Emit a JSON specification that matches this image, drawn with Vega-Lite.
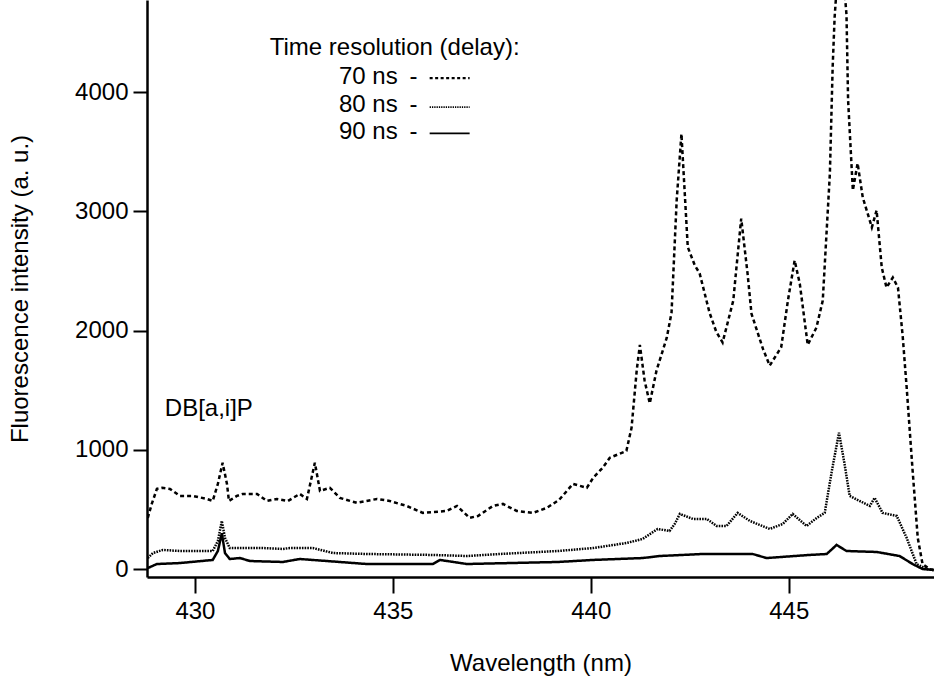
{
  "$schema": "https://vega.github.io/schema/vega-lite/v6.json",
  "width": 787,
  "height": 577,
  "autosize": {"type": "none"},
  "padding": {"left": 147, "top": 0, "right": 0, "bottom": 104},
  "background": "white",
  "config": {
    "view": {"stroke": null},
    "font": "Liberation Sans",
    "axis": {"grid": false, "domainColor": "black", "domainWidth": 2.5, "tickColor": "black", "tickWidth": 2, "labelColor": "black", "titleColor": "black", "labelFont": "Liberation Sans", "titleFont": "Liberation Sans", "labelFontSize": 24, "titleFontSize": 24, "titleFontWeight": "normal"},
    "text": {"font": "Liberation Sans", "fontSize": 24, "color": "black", "baseline": "middle"}
  },
  "datasets": {
    "spectra": [
      {"s": "70 ns", "w": 428.81, "v": 429}, {"s": "70 ns", "w": 428.91, "v": 546}, {"s": "70 ns", "w": 429.04, "v": 672}, {"s": "70 ns", "w": 429.17, "v": 681}, {"s": "70 ns", "w": 429.37, "v": 672}, {"s": "70 ns", "w": 429.62, "v": 613}, {"s": "70 ns", "w": 429.95, "v": 613}, {"s": "70 ns", "w": 430.3, "v": 588}, {"s": "70 ns", "w": 430.45, "v": 571}, {"s": "70 ns", "w": 430.58, "v": 714}, {"s": "70 ns", "w": 430.7, "v": 891}, {"s": "70 ns", "w": 430.81, "v": 714}, {"s": "70 ns", "w": 430.86, "v": 571}, {"s": "70 ns", "w": 431.06, "v": 613}, {"s": "70 ns", "w": 431.21, "v": 630}, {"s": "70 ns", "w": 431.57, "v": 630}, {"s": "70 ns", "w": 431.82, "v": 571}, {"s": "70 ns", "w": 432.07, "v": 588}, {"s": "70 ns", "w": 432.35, "v": 571}, {"s": "70 ns", "w": 432.65, "v": 630}, {"s": "70 ns", "w": 432.83, "v": 588}, {"s": "70 ns", "w": 433.03, "v": 891}, {"s": "70 ns", "w": 433.16, "v": 655}, {"s": "70 ns", "w": 433.41, "v": 681}, {"s": "70 ns", "w": 433.66, "v": 597}, {"s": "70 ns", "w": 434.09, "v": 555}, {"s": "70 ns", "w": 434.6, "v": 588}, {"s": "70 ns", "w": 434.92, "v": 571}, {"s": "70 ns", "w": 435.35, "v": 529}, {"s": "70 ns", "w": 435.76, "v": 471}, {"s": "70 ns", "w": 436.36, "v": 487}, {"s": "70 ns", "w": 436.62, "v": 529}, {"s": "70 ns", "w": 436.94, "v": 429}, {"s": "70 ns", "w": 437.15, "v": 445}, {"s": "70 ns", "w": 437.53, "v": 529}, {"s": "70 ns", "w": 437.78, "v": 546}, {"s": "70 ns", "w": 438.13, "v": 487}, {"s": "70 ns", "w": 438.54, "v": 471}, {"s": "70 ns", "w": 438.89, "v": 513}, {"s": "70 ns", "w": 439.2, "v": 580}, {"s": "70 ns", "w": 439.55, "v": 714}, {"s": "70 ns", "w": 439.9, "v": 681}, {"s": "70 ns", "w": 440.06, "v": 765}, {"s": "70 ns", "w": 440.3, "v": 849}, {"s": "70 ns", "w": 440.48, "v": 933}, {"s": "70 ns", "w": 440.9, "v": 991}, {"s": "70 ns", "w": 441.03, "v": 1185}, {"s": "70 ns", "w": 441.16, "v": 1664}, {"s": "70 ns", "w": 441.24, "v": 1880}, {"s": "70 ns", "w": 441.36, "v": 1580}, {"s": "70 ns", "w": 441.49, "v": 1390}, {"s": "70 ns", "w": 441.66, "v": 1664}, {"s": "70 ns", "w": 441.92, "v": 1941}, {"s": "70 ns", "w": 442.04, "v": 2150}, {"s": "70 ns", "w": 442.17, "v": 3092}, {"s": "70 ns", "w": 442.29, "v": 3650}, {"s": "70 ns", "w": 442.45, "v": 2700}, {"s": "70 ns", "w": 442.63, "v": 2546}, {"s": "70 ns", "w": 442.75, "v": 2480}, {"s": "70 ns", "w": 443.0, "v": 2150}, {"s": "70 ns", "w": 443.17, "v": 1990}, {"s": "70 ns", "w": 443.33, "v": 1900}, {"s": "70 ns", "w": 443.6, "v": 2252}, {"s": "70 ns", "w": 443.68, "v": 2530}, {"s": "70 ns", "w": 443.8, "v": 2940}, {"s": "70 ns", "w": 443.96, "v": 2479}, {"s": "70 ns", "w": 444.06, "v": 2141}, {"s": "70 ns", "w": 444.35, "v": 1846}, {"s": "70 ns", "w": 444.52, "v": 1706}, {"s": "70 ns", "w": 444.81, "v": 1860}, {"s": "70 ns", "w": 444.98, "v": 2252}, {"s": "70 ns", "w": 445.15, "v": 2588}, {"s": "70 ns", "w": 445.28, "v": 2393}, {"s": "70 ns", "w": 445.48, "v": 1880}, {"s": "70 ns", "w": 445.7, "v": 2025}, {"s": "70 ns", "w": 445.86, "v": 2252}, {"s": "70 ns", "w": 446.04, "v": 3319}, {"s": "70 ns", "w": 446.11, "v": 4210}, {"s": "70 ns", "w": 446.16, "v": 4630}, {"s": "70 ns", "w": 446.3, "v": 5300}, {"s": "70 ns", "w": 446.46, "v": 4647}, {"s": "70 ns", "w": 446.5, "v": 3933}, {"s": "70 ns", "w": 446.62, "v": 3176}, {"s": "70 ns", "w": 446.74, "v": 3403}, {"s": "70 ns", "w": 446.87, "v": 3118}, {"s": "70 ns", "w": 447.1, "v": 2866}, {"s": "70 ns", "w": 447.22, "v": 3008}, {"s": "70 ns", "w": 447.35, "v": 2530}, {"s": "70 ns", "w": 447.47, "v": 2361}, {"s": "70 ns", "w": 447.63, "v": 2445}, {"s": "70 ns", "w": 447.76, "v": 2361}, {"s": "70 ns", "w": 447.88, "v": 1950}, {"s": "70 ns", "w": 447.98, "v": 1521}, {"s": "70 ns", "w": 448.13, "v": 824}, {"s": "70 ns", "w": 448.26, "v": 260}, {"s": "70 ns", "w": 448.38, "v": 42}, {"s": "70 ns", "w": 448.56, "v": 0}, {"s": "70 ns", "w": 448.66, "v": -10},
      {"s": "80 ns", "w": 428.81, "v": 92}, {"s": "80 ns", "w": 428.94, "v": 134}, {"s": "80 ns", "w": 429.19, "v": 160}, {"s": "80 ns", "w": 429.62, "v": 151}, {"s": "80 ns", "w": 430.05, "v": 151}, {"s": "80 ns", "w": 430.45, "v": 151}, {"s": "80 ns", "w": 430.58, "v": 235}, {"s": "80 ns", "w": 430.68, "v": 403}, {"s": "80 ns", "w": 430.76, "v": 260}, {"s": "80 ns", "w": 430.88, "v": 176}, {"s": "80 ns", "w": 431.14, "v": 176}, {"s": "80 ns", "w": 431.72, "v": 176}, {"s": "80 ns", "w": 432.22, "v": 168}, {"s": "80 ns", "w": 432.4, "v": 176}, {"s": "80 ns", "w": 432.98, "v": 176}, {"s": "80 ns", "w": 433.49, "v": 134}, {"s": "80 ns", "w": 434.34, "v": 126}, {"s": "80 ns", "w": 436.01, "v": 118}, {"s": "80 ns", "w": 436.87, "v": 109}, {"s": "80 ns", "w": 437.7, "v": 126}, {"s": "80 ns", "w": 439.17, "v": 151}, {"s": "80 ns", "w": 440.06, "v": 176}, {"s": "80 ns", "w": 440.9, "v": 218}, {"s": "80 ns", "w": 441.31, "v": 252}, {"s": "80 ns", "w": 441.69, "v": 336}, {"s": "80 ns", "w": 441.99, "v": 319}, {"s": "80 ns", "w": 442.12, "v": 378}, {"s": "80 ns", "w": 442.25, "v": 462}, {"s": "80 ns", "w": 442.58, "v": 420}, {"s": "80 ns", "w": 442.93, "v": 420}, {"s": "80 ns", "w": 443.18, "v": 361}, {"s": "80 ns", "w": 443.43, "v": 361}, {"s": "80 ns", "w": 443.71, "v": 471}, {"s": "80 ns", "w": 444.02, "v": 403}, {"s": "80 ns", "w": 444.52, "v": 336}, {"s": "80 ns", "w": 444.85, "v": 378}, {"s": "80 ns", "w": 445.1, "v": 462}, {"s": "80 ns", "w": 445.45, "v": 361}, {"s": "80 ns", "w": 445.71, "v": 429}, {"s": "80 ns", "w": 445.91, "v": 471}, {"s": "80 ns", "w": 446.09, "v": 824}, {"s": "80 ns", "w": 446.27, "v": 1143}, {"s": "80 ns", "w": 446.41, "v": 882}, {"s": "80 ns", "w": 446.54, "v": 613}, {"s": "80 ns", "w": 446.79, "v": 571}, {"s": "80 ns", "w": 447.05, "v": 529}, {"s": "80 ns", "w": 447.17, "v": 597}, {"s": "80 ns", "w": 447.37, "v": 471}, {"s": "80 ns", "w": 447.73, "v": 445}, {"s": "80 ns", "w": 447.98, "v": 260}, {"s": "80 ns", "w": 448.23, "v": 42}, {"s": "80 ns", "w": 448.48, "v": 0}, {"s": "80 ns", "w": 448.66, "v": -8},
      {"s": "90 ns", "w": 428.81, "v": 8}, {"s": "90 ns", "w": 429.04, "v": 42}, {"s": "90 ns", "w": 429.62, "v": 50}, {"s": "90 ns", "w": 430.45, "v": 76}, {"s": "90 ns", "w": 430.58, "v": 151}, {"s": "90 ns", "w": 430.68, "v": 300}, {"s": "90 ns", "w": 430.76, "v": 134}, {"s": "90 ns", "w": 430.88, "v": 84}, {"s": "90 ns", "w": 431.14, "v": 92}, {"s": "90 ns", "w": 431.39, "v": 67}, {"s": "90 ns", "w": 432.22, "v": 59}, {"s": "90 ns", "w": 432.65, "v": 84}, {"s": "90 ns", "w": 434.34, "v": 42}, {"s": "90 ns", "w": 436.01, "v": 42}, {"s": "90 ns", "w": 436.19, "v": 76}, {"s": "90 ns", "w": 436.87, "v": 42}, {"s": "90 ns", "w": 439.17, "v": 59}, {"s": "90 ns", "w": 440.06, "v": 76}, {"s": "90 ns", "w": 441.31, "v": 92}, {"s": "90 ns", "w": 441.74, "v": 109}, {"s": "90 ns", "w": 442.83, "v": 126}, {"s": "90 ns", "w": 444.09, "v": 126}, {"s": "90 ns", "w": 444.44, "v": 92}, {"s": "90 ns", "w": 445.53, "v": 118}, {"s": "90 ns", "w": 445.96, "v": 126}, {"s": "90 ns", "w": 446.21, "v": 202}, {"s": "90 ns", "w": 446.46, "v": 151}, {"s": "90 ns", "w": 447.22, "v": 143}, {"s": "90 ns", "w": 447.8, "v": 109}, {"s": "90 ns", "w": 448.13, "v": 42}, {"s": "90 ns", "w": 448.38, "v": 0}, {"s": "90 ns", "w": 448.66, "v": -8}
    ],
    "one": [{}]
  },
  "layer": [
    {
      "data": {"name": "spectra"},
      "mark": {"type": "line", "clip": true, "color": "black", "strokeWidth": 2.5, "interpolate": "linear"},
      "encoding": {
        "x": {"field": "w", "type": "quantitative", "scale": {"domain": [428.79, 448.67], "nice": false, "zero": false},
          "axis": {"values": [430, 435, 440, 445], "format": "d", "title": "Wavelength (nm)", "tickSize": 16, "labelPadding": 6, "titlePadding": 28}},
        "y": {"field": "v", "type": "quantitative", "scale": {"domain": [-67, 4773], "nice": false, "zero": false},
          "axis": {"values": [0, 1000, 2000, 3000, 4000], "format": "d", "title": "Fluorescence intensity (a. u.)", "tickSize": 14, "labelPadding": 5, "titlePadding": 42}},
        "detail": {"field": "s"},
        "strokeDash": {"field": "s", "type": "nominal", "scale": {"domain": ["70 ns", "80 ns", "90 ns"], "range": [[4, 3], [1.6, 1.1], [1, 0]]}, "legend": null}
      }
    },
    {"data": {"name": "one"}, "mark": {"type": "text", "align": "left"},
      "encoding": {"x": {"datum": 431.89}, "y": {"datum": 4370}, "text": {"value": "Time resolution (delay):"}}},
    {"data": {"name": "one"}, "mark": {"type": "text", "align": "left"},
      "encoding": {"x": {"datum": 433.64}, "y": {"datum": 4126}, "text": {"value": "70 ns"}}},
    {"data": {"name": "one"}, "mark": {"type": "text", "align": "left"},
      "encoding": {"x": {"datum": 433.64}, "y": {"datum": 3891}, "text": {"value": "80 ns"}}},
    {"data": {"name": "one"}, "mark": {"type": "text", "align": "left"},
      "encoding": {"x": {"datum": 433.64}, "y": {"datum": 3664}, "text": {"value": "90 ns"}}},
    {"data": {"name": "one"}, "mark": {"type": "text", "align": "center"},
      "encoding": {"x": {"datum": 435.52}, "y": {"datum": 4126}, "text": {"value": "-"}}},
    {"data": {"name": "one"}, "mark": {"type": "text", "align": "center"},
      "encoding": {"x": {"datum": 435.52}, "y": {"datum": 3891}, "text": {"value": "-"}}},
    {"data": {"name": "one"}, "mark": {"type": "text", "align": "center"},
      "encoding": {"x": {"datum": 435.52}, "y": {"datum": 3664}, "text": {"value": "-"}}},
    {"data": {"name": "one"}, "mark": {"type": "rule", "color": "black", "strokeWidth": 2.2, "strokeDash": [3, 2.5]},
      "encoding": {"x": {"datum": 435.93}, "x2": {"datum": 436.94}, "y": {"datum": 4118}}},
    {"data": {"name": "one"}, "mark": {"type": "rule", "color": "black", "strokeWidth": 1.6, "strokeDash": [1.3, 1]},
      "encoding": {"x": {"datum": 435.93}, "x2": {"datum": 436.94}, "y": {"datum": 3874}}},
    {"data": {"name": "one"}, "mark": {"type": "rule", "color": "black", "strokeWidth": 1.8},
      "encoding": {"x": {"datum": 435.93}, "x2": {"datum": 436.94}, "y": {"datum": 3655}}},
    {"data": {"name": "one"}, "mark": {"type": "text", "align": "left"},
      "encoding": {"x": {"datum": 429.24}, "y": {"datum": 1345}, "text": {"value": "DB[a,i]P"}}}
  ]
}
